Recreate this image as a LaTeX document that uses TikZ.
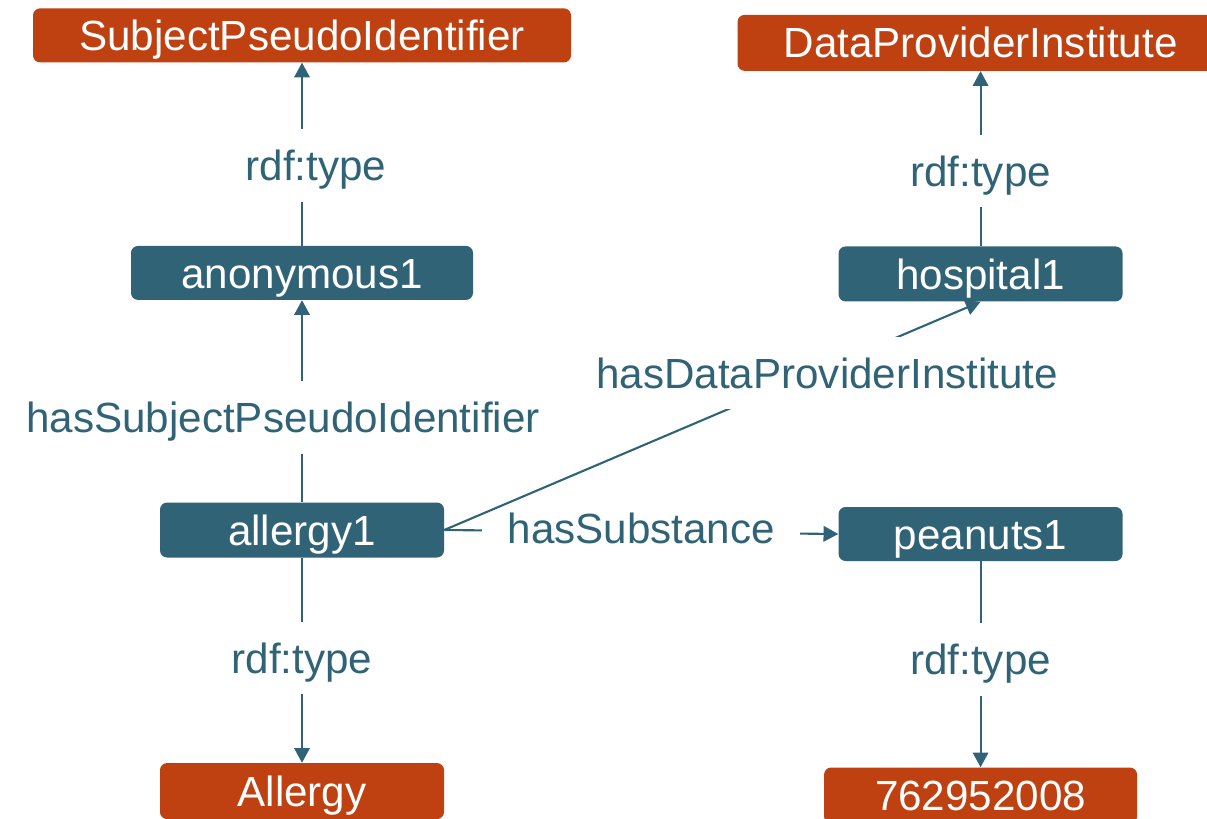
\documentclass[tikz,border=0pt]{standalone}
\usepackage{fontspec}
\setmainfont{Liberation Sans}
\usetikzlibrary{positioning, arrows.meta}
\definecolor{rdfblue}{RGB}{49,99,119}
\definecolor{rdforange}{RGB}{191,65,17}
\tikzset{>={Triangle[width=11pt,length=10.5pt]}}
\tikzstyle{inst}=[fill=rdfblue, text=white, rounded corners=5pt, inner sep=0, minimum height=1.375cm, text height=21.5pt, text depth=0pt, font=\fontsize{30}{36}\selectfont]
\tikzstyle{cls}=[inst, fill=rdforange, minimum height=1.4cm]
\tikzstyle{connect}=[line width=1.5pt, rdfblue]
\tikzstyle{prop}=[fill=white, text=rdfblue, inner xsep=18pt, inner ysep=15pt, text height=21.5pt, text depth=0pt, font=\fontsize{30}{36}\selectfont]

\begin{document}
\begin{tikzpicture}
    \useasboundingbox (0,0) rectangle (30.175,-20.475);

    \node[inst, minimum width=7.1cm] (allergy1) at (7.55,-13.25) {allergy1};
    \node[inst, minimum width=8.55cm, minimum height=1.35cm, above=5.05cm of allergy1] (anon1) {anonymous1};
    \node[cls, minimum width=13.45cm, minimum height=1.35cm, above=4.575cm of anon1] (spi) {SubjectPseudoIdentifier};
    \node[cls, minimum width=7.1cm, below=5.125cm of allergy1] (allergy) {Allergy};
    \node[inst, minimum width=7.1cm, minimum height=1.35cm, right=9.85cm of allergy1, yshift=-0.1cm] (peanuts1) {peanuts1};
    \node[inst, minimum width=7.1cm, above=5.125cm of peanuts1] (hospital1) {hospital1};
    \node[cls, minimum width=12.15cm, above=4.375cm of hospital1] (dpi) {DataProviderInstitute};
    \node[cls, minimum width=7.825cm, below=5.15cm of peanuts1] (snomed) {762952008};

    \draw[connect, ->] (anon1) -- node[prop, pos=0.437, xshift=0.35cm] (t1) {rdf:type} (spi);
    \draw[connect, ->] (hospital1) -- node[prop, pos=0.43] (t2) {rdf:type} (dpi);
    \draw[connect, ->] (allergy1) -- node[prop, pos=0.42, xshift=-0.475cm] (p1) {hasSubjectPseudoIdentifier} (anon1);
    \draw[connect, ->] (allergy1.east) -- node[prop, pos=0.5, yshift=0.1cm] (p3) {hasSubstance} (peanuts1.west);
    \draw[connect, ->] (allergy1.east) -- node[prop, pos=0.714, yshift=-0.15cm] (p2) {hasDataProviderInstitute} (hospital1.south);
    \draw[connect, ->] (allergy1) -- node[prop, pos=0.49] (t3) {rdf:type} (allergy);
    \draw[connect, ->] (peanuts1) -- node[prop, pos=0.476] (t4) {rdf:type} (snomed);
\end{tikzpicture}
\end{document}
